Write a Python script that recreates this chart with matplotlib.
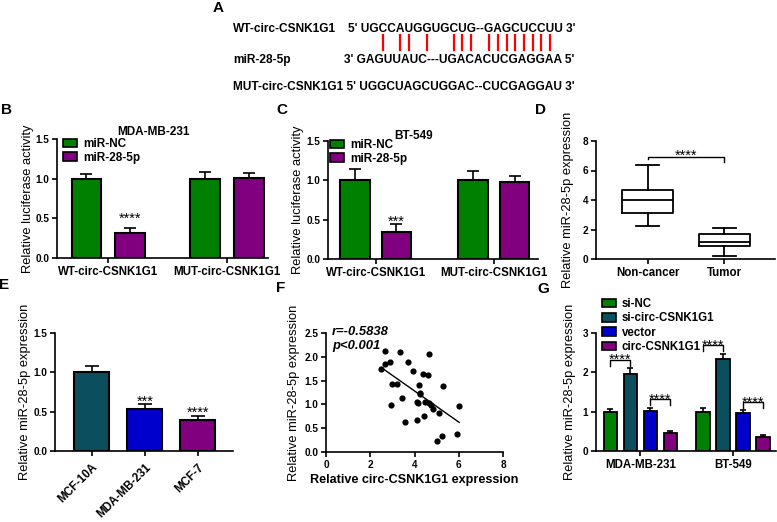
import numpy as np
import matplotlib
matplotlib.use("Agg")
import matplotlib.pyplot as plt
from matplotlib.patches import Patch
from matplotlib.font_manager import FontProperties

plt.rcParams['font.family'] = ['Liberation Sans', 'DejaVu Sans']

W, H = 777, 522

# ---------------- data ----------------
wt_label = "WT-circ-CSNK1G1"
wt_seq = "UGCCAUGGUGCUG--GAGCUCCUU"
mir_label = "miR-28-5p"
mir_seq = "GAGUUAUC---UGACACUCGAGGAA"
mut_label = "MUT-circ-CSNK1G1"
mut_seq = "UGGCUAGCUGGAC--CUCGAGGAU"
pair_idx = [2, 4, 5, 7, 10, 11, 12, 15, 16, 17, 18, 19, 20, 21, 22]

luc_groups = ["WT-circ-CSNK1G1", "MUT-circ-CSNK1G1"]
luc_series = ["miR-NC", "miR-28-5p"]
mda_luc_mean = [[1.00, 1.00], [0.32, 1.01]]
mda_luc_err = [[0.065, 0.09], [0.06, 0.06]]
mda_luc_sig = [["", ""], ["****", ""]]
bt_luc_mean = [[1.00, 1.00], [0.34, 0.98]]
bt_luc_err = [[0.15, 0.12], [0.11, 0.08]]
bt_luc_sig = [["", ""], ["***", ""]]

box_groups = ["Non-cancer", "Tumor"]
box_whislo = [2.22, 0.22]
box_q1 = [3.15, 0.88]
box_med = [4.02, 1.12]
box_q3 = [4.65, 1.68]
box_whishi = [6.38, 2.13]

cell_lines = ["MCF-10A", "MDA-MB-231", "MCF-7"]
cell_mean = [1.01, 0.53, 0.39]
cell_err = [0.065, 0.065, 0.06]
cell_sig = ["", "***", "****"]

corr_x = [2.50, 2.67, 2.67, 2.89, 2.98, 2.94, 3.22, 3.33, 3.45, 3.55, 3.72, 3.95,
          4.11, 4.14, 4.11, 4.20, 4.23, 4.26, 4.37, 4.41, 4.46, 4.61, 4.67, 4.67,
          4.74, 4.82, 5.02, 5.11, 5.26, 5.30, 5.92, 6.02]
corr_y = [1.75, 2.13, 1.85, 1.89, 1.42, 0.99, 1.43, 2.11, 1.13, 0.63, 1.89, 1.70,
          1.06, 1.03, 0.68, 1.40, 1.25, 1.22, 1.63, 0.75, 1.04, 1.61, 2.05, 1.02,
          0.99, 0.90, 0.23, 0.82, 0.33, 1.39, 0.37, 0.96]
corr_r = "r=-0.5838"
corr_p = "p<0.001"

g_groups = ["MDA-MB-231", "BT-549"]
g_series = ["si-NC", "si-circ-CSNK1G1", "vector", "circ-CSNK1G1"]
g_mean = [[1.00, 1.96, 1.01, 0.46], [1.00, 2.34, 0.97, 0.36]]
g_err = [[0.08, 0.14, 0.09, 0.05], [0.10, 0.13, 0.06, 0.05]]
g_pairs = [(0, 1), (2, 3)]
g_sig = "****"

# ---------------- style ----------------
GREEN = "#008000"
PURPLE = "#800080"
TEAL = "#0b4f5e"
BLUE = "#0000cc"
TICK_FS = 7.2
XT_FS = 8.3
LAB_FS = 9.3
STAR_FS = 10.5

fig = plt.figure(figsize=(W / 100, H / 100), dpi=100)
ov = fig.add_axes([0, 0, 1, 1], zorder=10)
ov.set_xlim(0, W)
ov.set_ylim(H, 0)
ov.axis("off")


def px_axes(l, t, r, b):
    return fig.add_axes([l / W, 1 - b / H, (r - l) / W, (b - t) / H])


def style(ax):
    for s in ("top", "right"):
        ax.spines[s].set_visible(False)
    for s in ("left", "bottom"):
        ax.spines[s].set_linewidth(1.2)
    ax.tick_params(width=1.2, length=3.5, pad=2, colors="black")


def yt(ax, ticks, fmt):
    ax.set_yticks(ticks, [fmt.format(t) for t in ticks], fontsize=TICK_FS,
                  fontweight="bold")


def star(ax, x, y, s, gap_px):
    ax.annotate(s, xy=(x, y), xytext=(0, (gap_px - 8.5) * 0.72),
                textcoords="offset points", ha="center", va="baseline",
                fontsize=STAR_FS)


def errbar(ax, x, y, e, cap=4):
    ax.errorbar(x, y, yerr=[[0] * len(np.atleast_1d(y)), e], fmt="none",
                ecolor="black", elinewidth=1.2, capsize=cap, capthick=1.2,
                zorder=1)


# ---------------- panel letters ----------------
for lt, (x, y) in zip("ABCDEFG", [(218, 8), (6, 110), (282, 110), (540, 110),
                                  (4, 285), (281, 288), (543, 289)]):
    ov.text(x, y, lt, fontsize=11, fontweight="bold", ha="center", va="center")

# ---------------- panel A ----------------
fpA = FontProperties(family="Liberation Sans", weight="bold", size=8.6)
renderer = fig.canvas.get_renderer()


def tw(s):
    return renderer.get_text_width_height_descent(s, fpA, ismath=False)[0]


ov.text(233, 29, wt_label, fontproperties=fpA, va="center")
ov.text(348, 29, "5' " + wt_seq + " 3'", fontproperties=fpA, va="center")
ov.text(233, 60, mir_label, fontproperties=fpA, va="center")
ov.text(344, 60, "3' " + mir_seq + " 5'", fontproperties=fpA, va="center")
ov.text(233, 87, mut_label + " 5' " + mut_seq + " 3'", fontproperties=fpA,
        va="center")
for i in pair_idx:
    xc = 348 + tw("5' " + wt_seq[:i + 1]) - tw(wt_seq[i]) / 2
    ov.plot([xc, xc], [35, 50], color="#ff0000", lw=1.6)


# ---------------- panels B & C ----------------
def luc_panel(box, xl, offs, means, errs, sigs, title, title_xy, leg_xy,
              ylpad, gap):
    ax = px_axes(*box)
    style(ax)
    x = np.arange(len(luc_groups))
    cols = [GREEN, PURPLE]
    for s in range(2):
        ax.bar(x + offs[s], means[s], width=0.25, color=cols[s],
               edgecolor="black", linewidth=1.5, zorder=2)
        errbar(ax, x + offs[s], means[s], errs[s])
        for g in range(len(x)):
            if sigs[s][g]:
                star(ax, x[g] + offs[s], means[s][g] + errs[s][g], sigs[s][g], gap)
    ax.set_xlim(*xl)
    ax.set_ylim(0, 1.5)
    yt(ax, [0, 0.5, 1.0, 1.5], "{:.1f}")
    ax.set_xticks(x, luc_groups, fontsize=XT_FS, fontweight="bold")
    ax.set_ylabel("Relative luciferase activity", fontsize=LAB_FS, labelpad=ylpad)
    handles = [Patch(facecolor=c, edgecolor="black", linewidth=1.2) for c in cols]
    ax.legend(handles, luc_series, loc="upper left",
              bbox_to_anchor=(leg_xy[0] / W, 1 - leg_xy[1] / H),
              bbox_transform=fig.transFigure, frameon=False,
              prop={"weight": "bold", "size": 8.5}, handlelength=1.2,
              handleheight=0.75, handletextpad=0.5, labelspacing=0.15,
              borderpad=0, borderaxespad=0)
    ov.text(title_xy[0], title_xy[1], title, fontsize=8.5, fontweight="bold",
            ha="center", va="center")
    return ax


luc_panel((57, 139, 268, 258), (-0.43, 1.345), [-0.183, 0.183], mda_luc_mean,
          mda_luc_err, mda_luc_sig, "MDA-MB-231", (153, 132), (63, 138), 1, 14)
luc_panel((328, 141, 538, 259), (-0.404, 1.375), [-0.176, 0.176], bt_luc_mean,
          bt_luc_err, bt_luc_sig, "BT-549", (414, 136), (330, 139), 2, 6)

# ---------------- panel D ----------------
axD = px_axes(596, 141, 775, 259)
style(axD)
stats = [dict(whislo=box_whislo[i], q1=box_q1[i], med=box_med[i], q3=box_q3[i],
              whishi=box_whishi[i], label=box_groups[i]) for i in range(2)]
lp = dict(color="black", linewidth=1.3)
axD.bxp(stats, positions=[0, 1], widths=0.66, showfliers=False, capwidths=0.3,
        boxprops=lp, whiskerprops=lp, capprops=lp, medianprops=lp)
axD.set_xlim(-0.675, 1.66)
axD.set_ylim(0, 8)
yt(axD, [0, 2, 4, 6, 8], "{:d}")
axD.set_xticks([0, 1], box_groups, fontsize=XT_FS, fontweight="bold")
axD.set_ylabel("Relative miR-28-5p expression", fontsize=LAB_FS, labelpad=6)
btop = max(box_whishi) + 0.55
axD.plot([0, 0, 1, 1], [btop - 0.18, btop, btop, btop - 0.34], color="black",
         lw=1.0)
star(axD, 0.5, btop, "****", 6)

# ---------------- panel E ----------------
axE = px_axes(55, 333, 233, 451)
style(axE)
xe = np.arange(len(cell_lines))
axE.bar(xe, cell_mean, width=0.66, color=[TEAL, BLUE, PURPLE],
        edgecolor="black", linewidth=1.5, zorder=2)
errbar(axE, xe, cell_mean, cell_err, cap=5)
for i in range(len(xe)):
    if cell_sig[i]:
        star(axE, xe[i], cell_mean[i] + cell_err[i], cell_sig[i], 7)
axE.set_xlim(-0.69, 2.66)
axE.set_ylim(0, 1.5)
yt(axE, [0, 0.5, 1.0, 1.5], "{:.1f}")
axE.set_xticks(xe, cell_lines, fontsize=XT_FS, fontweight="bold", rotation=45,
               ha="right", rotation_mode="anchor")
axE.tick_params(axis="x", pad=4)
axE.set_ylabel("Relative miR-28-5p expression", fontsize=LAB_FS, labelpad=2)

# ---------------- panel F ----------------
axF = px_axes(326, 333, 503, 452)
style(axF)
axF.scatter(corr_x, corr_y, s=20, color="black", zorder=3, linewidths=0)
k, b0 = np.polyfit(corr_x, corr_y, 1)
xx = np.array([min(corr_x), max(corr_x)])
axF.plot(xx, k * xx + b0, color="black", lw=1.0)
axF.set_xlim(0, 8)
axF.set_ylim(0, 2.5)
axF.set_xticks([0, 2, 4, 6, 8], ["0", "2", "4", "6", "8"], fontsize=TICK_FS,
               fontweight="bold")
yt(axF, [0, 0.5, 1.0, 1.5, 2.0, 2.5], "{:.1f}")
axF.set_ylabel("Relative miR-28-5p expression", fontsize=LAB_FS, labelpad=3)
axF.set_xlabel("Relative circ-CSNK1G1 expression", fontsize=9.1,
               fontweight="bold", labelpad=3)
ov.text(332, 332, corr_r, fontsize=9.4, fontweight="bold", fontstyle="italic",
        va="center")
ov.text(332, 346, corr_p, fontsize=9.4, fontweight="bold", fontstyle="italic",
        va="center")

# ---------------- panel G ----------------
axG = px_axes(596, 333, 776, 451)
style(axG)
xg = np.arange(len(g_groups))
gcols = [GREEN, TEAL, BLUE, PURPLE]
goffs = (np.arange(4) - 1.5) * 0.216
for s in range(4):
    ys = [g_mean[g][s] for g in range(2)]
    es = [g_err[g][s] for g in range(2)]
    axG.bar(xg + goffs[s], ys, width=0.146, color=gcols[s], edgecolor="black",
            linewidth=1.3, zorder=2)
    errbar(axG, xg + goffs[s], ys, es, cap=2.5)
for g in range(2):
    for (i, j) in g_pairs:
        top = max(g_mean[g][i] + g_err[g][i], g_mean[g][j] + g_err[g][j]) + 0.22
        xi, xj = xg[g] + goffs[i], xg[g] + goffs[j]
        axG.plot([xi, xi, xj, xj], [top - 0.15, top, top, top - 0.15],
                 color="black", lw=1.0)
        star(axG, (xi + xj) / 2, top, g_sig, 4)
axG.set_xlim(-0.48, 1.465)
axG.set_ylim(0, 3)
yt(axG, [0, 1, 2, 3], "{:d}")
axG.set_xticks(xg, g_groups, fontsize=XT_FS, fontweight="bold")
axG.set_ylabel("Relative miR-28-5p expression", fontsize=LAB_FS, labelpad=5)
gh = [Patch(facecolor=c, edgecolor="black", linewidth=1.2) for c in gcols]
axG.legend(gh, g_series, loc="upper left", bbox_to_anchor=(602 / W, 1 - 298 / H),
           bbox_transform=fig.transFigure, frameon=False,
           prop={"weight": "bold", "size": 8.3}, handlelength=1.2,
           handleheight=0.75, handletextpad=0.5, labelspacing=0.2,
           borderpad=0, borderaxespad=0)

fig.savefig("out.png", dpi=100)
